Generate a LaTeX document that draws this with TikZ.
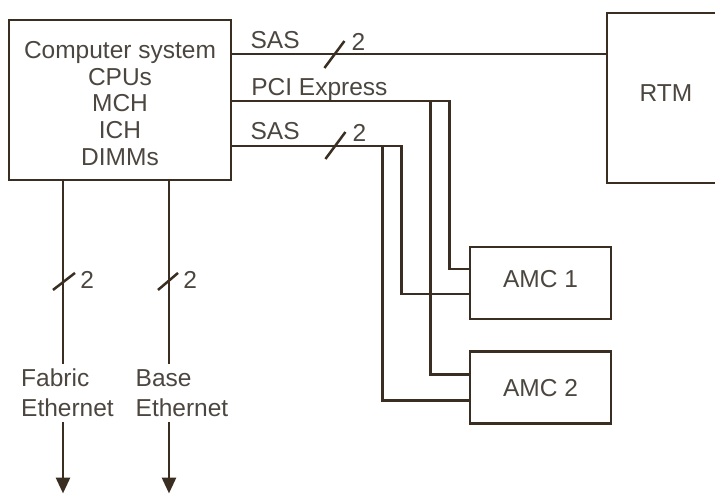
\documentclass[tikz,border=0pt]{standalone}
\usepackage{fontspec}
\setmainfont{Liberation Sans}
\usetikzlibrary{arrows.meta,positioning,calc}
\definecolor{linebrown}{RGB}{58,46,34}
\definecolor{textgray}{RGB}{76,70,64}

\begin{document}
\begin{tikzpicture}[
 x=1pt, y=-1pt,
 box/.style={rectangle, draw=linebrown, line width=2.9pt, inner sep=0pt, font=\fontsize{24.5}{26.7}\selectfont, text=textgray},
 lbl/.style={font=\fontsize{24.5}{26.7}\selectfont, text=textgray, inner sep=0pt},
 eth/.style={lbl, align=left, inner sep=5pt, font=\fontsize{24.5}{30}\selectfont},
 num/.style={lbl, inner sep=4pt, anchor=west},
 bus/.style={draw=linebrown, line width=2.9pt},
 slash/.style={draw=linebrown, line width=2.5pt},
 arrow/.style={bus, -{Triangle[width=14pt,length=16pt]}}
]

% Frame
\useasboundingbox (0,0) rectangle (715,494);
\clip (0,0) rectangle (715,494);

% Blocks
\node[box, minimum width=222pt, minimum height=160pt] (cs) at (120,100) {};
\node[lbl, align=center] (cstext) at (120,103.5) {Computer system\\CPUs\\MCH\\ICH\\DIMMs};
\node[box, minimum width=118pt, minimum height=170pt, text depth=10pt] (rtm) at (666,98) {RTM};
\node[box, minimum width=141pt, minimum height=72pt, text depth=8pt] (amc1) at (540.5,283) {AMC 1};
\node[box, minimum width=141pt, minimum height=72pt, below=30pt of amc1] (amc2) {AMC 2};

% Taps on the computer system
\coordinate (sasA) at ([yshift=46pt]cs.east);
\coordinate (pcie) at ([yshift=-1pt]cs.east);
\coordinate (sasB) at ([yshift=-46pt]cs.east);
\coordinate (fab) at ([xshift=-57pt]cs.south);
\coordinate (base) at ([xshift=49pt]cs.south);
\coordinate (floor) at (0,493.5);

% Drops to the AMCs
\coordinate (pcietap) at ([xshift=-38pt]amc1.west);
\coordinate (sastap) at ([xshift=-86pt]amc1.west);

% SAS to RTM
\draw[bus] (sasA) -- (sasA -| rtm.west);
\node[lbl, anchor=base west] at ([xshift=18pt,yshift=5.5pt]sasA) {SAS};
\coordinate (slA) at ([xshift=102pt,yshift=-0.5pt]sasA);
\draw[slash] ([shift={(-10pt,-13.5pt)}]slA) -- ([shift={(10pt,13.5pt)}]slA) node[num, xshift=2pt, yshift=-1pt] {2};

% PCI Express to AMC 1 and AMC 2
\draw[bus] (pcie) -| ([xshift=-19pt,yshift=14pt]amc1.west) -- ([yshift=14pt]amc1.west);
\draw[bus] (pcie -| pcietap) |- ([yshift=13pt]amc2.west);
\node[lbl, anchor=base west] at ([xshift=18.7pt,yshift=5.5pt]pcie) {PCI Express};

% SAS to AMC 1 and AMC 2
\draw[bus] (sasB) -| ([xshift=-67pt,yshift=-11pt]amc1.west) -- ([yshift=-11pt]amc1.west);
\draw[bus] (sasB -| sastap) |- ([yshift=-13pt]amc2.west);
\node[lbl, anchor=base west] at ([xshift=18pt,yshift=6pt]sasB) {SAS};
\coordinate (slB) at ([xshift=103pt,yshift=0.5pt]sasB);
\draw[slash] ([shift={(-10pt,-13.5pt)}]slB) -- ([shift={(10pt,13.5pt)}]slB) node[num, xshift=2pt, yshift=-1pt] {2};

% Ethernet links
\node[eth] (fablbl) at (67.5,393) {Fabric\\Ethernet};
\node[eth] (baselbl) at (182,393) {Base\\Ethernet};

\draw[bus] (fab) -- (fab |- fablbl.north);
\draw[arrow] (fab |- fablbl.south) -- (fab |- floor);
\coordinate (slF) at ([xshift=1pt,yshift=-100pt]fab);
\draw[slash] ([shift={(-11pt,-8.5pt)}]slF) -- ([shift={(11pt,8.5pt)}]slF) node[num, yshift=-7pt] {2};

\draw[bus] (base) -- (base |- baselbl.north);
\draw[arrow] (base |- baselbl.south) -- (base |- floor);
\coordinate (slE) at ([xshift=-1pt,yshift=-100pt]base);
\draw[slash] ([shift={(-10pt,-8.5pt)}]slE) -- ([shift={(10pt,8.5pt)}]slE) node[num, yshift=-7pt] {2};

\end{tikzpicture}
\end{document}
